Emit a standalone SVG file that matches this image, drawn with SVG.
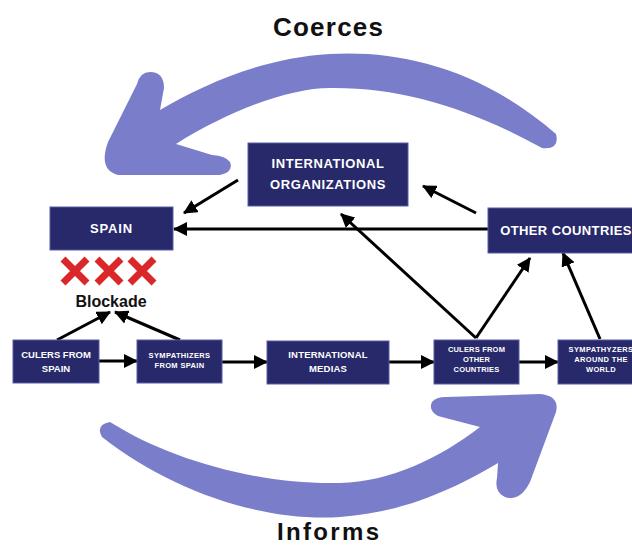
<svg xmlns="http://www.w3.org/2000/svg" width="632" height="547" viewBox="0 0 632 547">
<defs>
<style>
.box{fill:#27296a;stroke:#5a5da6;stroke-width:1}
.t{fill:#ffffff;font-family:"Liberation Sans",Arial,sans-serif;font-weight:bold;text-anchor:middle}
.big{fill:#111111;font-family:"Liberation Sans",Arial,sans-serif;font-weight:bold;text-anchor:middle}
.big2{fill:#111111;font-family:"Liberation Sans",Arial,sans-serif;font-weight:bold}
.c{stroke:#000;stroke-width:3;fill:none;marker-end:url(#ah)}
.sweep{fill:#7a7dca}
.x{stroke:#d9272a;stroke-width:7;fill:none}
</style>
<marker id="ah" markerUnits="userSpaceOnUse" markerWidth="14" markerHeight="14" refX="13" refY="7" orient="auto">
<path d="M0,0 L14,7 L0,14 z" fill="#000"/>
</marker>
</defs>
<rect width="632" height="547" fill="#ffffff"/>

<g id="coerces-arrow">
<path class="sweep" d="M 542,148 Q 560,150 556,134 C 480,68 400,50 330,54 C 262,58 205,84 160,110 L 164,88 Q 164,72 150,72 Q 140,72 137,84 L 108,142 Q 98,170 118,175 L 220,175 Q 234,172 230,162 Q 226,156 212,155 L 176,144 C 230,110 290,88 330,88 C 400,87 470,108 542,148 Z"/>
<text class="big2" x="273" y="36" font-size="26" textLength="110">Coerces</text>
</g>

<g id="informs-arrow">
<path class="sweep" d="M 110,422 C 170,460 260,485 340,483 C 390,482 440,458 480,427 L 438,416 Q 428,410 432,402 Q 436,397 446,397 L 540,394 Q 560,396 556,412 L 530,482 Q 520,502 505,497 Q 494,492 497,478 L 498,463 C 460,485 410,512 340,517 C 260,522 170,490 102,437 Q 95,425 110,422 Z"/>
<text class="big2" x="277" y="540" font-size="24" textLength="102">Informs</text>
</g>

<g id="connectors">
<path class="c" d="M99,361 L137,361"/>
<path class="c" d="M222,362 L267,362"/>
<path class="c" d="M389,362 L434,362"/>
<path class="c" d="M519,362 L558,362"/>
<path class="c" d="M57,340 L110,312"/>
<path class="c" d="M180,340 L115,312"/>
<path class="c" d="M238,180 L184,213"/>
<path class="c" d="M488,229 L174,229"/>
<path class="c" d="M476,213 L423,186"/>
<path class="c" d="M476,338 L341,214"/>
<path class="c" d="M476,338 L530,258"/>
<path class="c" d="M600,339 L563,253"/>
</g>

<g id="spain">
<rect class="box" x="50" y="207" width="123" height="43"/>
<text class="t" x="111.5" y="233" font-size="13" letter-spacing="0.8">SPAIN</text>
</g>

<g id="blockade">
<path class="x" d="M63,259 L87,283 M87,259 L63,283"/>
<path class="x" d="M97,259 L121,283 M121,259 L97,283"/>
<path class="x" d="M130,259 L154,283 M154,259 L130,283"/>
<text class="big" x="111" y="307" font-size="16">Blockade</text>
</g>

<g id="international-organizations">
<rect class="box" x="248" y="143" width="160" height="63"/>
<text class="t" x="328" y="168" font-size="13" letter-spacing="0.6">INTERNATIONAL</text>
<text class="t" x="328" y="189" font-size="13" letter-spacing="0.6">ORGANIZATIONS</text>
</g>

<g id="other-countries">
<rect class="box" x="488" y="208" width="150" height="45"/>
<text class="t" x="566" y="235" font-size="13" letter-spacing="0.4">OTHER COUNTRIES</text>
</g>

<g id="culers-from-spain">
<rect class="box" x="13" y="340" width="86" height="43"/>
<text class="t" x="56" y="358" font-size="9.5">CULERS FROM</text>
<text class="t" x="56" y="372" font-size="9.5">SPAIN</text>
</g>

<g id="sympathizers-from-spain">
<rect class="box" x="137" y="340" width="85" height="43"/>
<text class="t" x="179.5" y="358" font-size="7.5" letter-spacing="0.35">SYMPATHIZERS</text>
<text class="t" x="179.5" y="368" font-size="7.5" letter-spacing="0.35">FROM SPAIN</text>
</g>

<g id="international-medias">
<rect class="box" x="267" y="341" width="122" height="43"/>
<text class="t" x="328" y="358" font-size="9.5" letter-spacing="0.2">INTERNATIONAL</text>
<text class="t" x="328" y="372" font-size="9.5" letter-spacing="0.2">MEDIAS</text>
</g>

<g id="culers-from-other-countries">
<rect class="box" x="434" y="340" width="85" height="44"/>
<text class="t" x="476.5" y="352" font-size="7.5" letter-spacing="0.2">CULERS FROM</text>
<text class="t" x="476.5" y="362" font-size="7.5" letter-spacing="0.2">OTHER</text>
<text class="t" x="476.5" y="372" font-size="7.5" letter-spacing="0.2">COUNTRIES</text>
</g>

<g id="sympathyzers-around-the-world">
<rect class="box" x="558" y="340" width="80" height="44"/>
<text class="t" x="601" y="352" font-size="7.5" letter-spacing="0.35">SYMPATHYZERS</text>
<text class="t" x="601" y="362" font-size="7.5" letter-spacing="0.35">AROUND THE</text>
<text class="t" x="601" y="372" font-size="7.5" letter-spacing="0.35">WORLD</text>
</g>
</svg>
